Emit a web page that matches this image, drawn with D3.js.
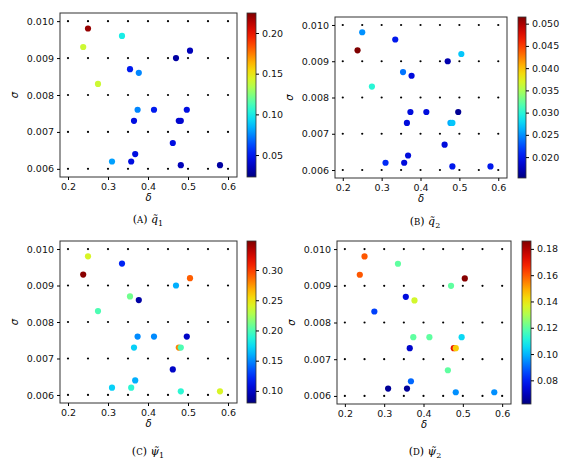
<!DOCTYPE html><html><head><meta charset="utf-8">
<script src="https://cdn.jsdelivr.net/npm/d3@7"></script>
<style>body{margin:0;background:#fff}</style></head><body>
<svg id="c" width="582" height="467" font-family="DejaVu Sans"></svg>
<script>
const deltas=[0.25,0.238,0.335,0.275,0.47,0.505,0.355,0.377,0.374,0.415,0.497,0.365,0.477,0.482,0.462,0.368,0.31,0.358,0.482,0.58];
const sigmas=[0.0098,0.0093,0.0096,0.0083,0.0090,0.0092,0.0087,0.0086,0.0076,0.0076,0.0076,0.0073,0.0073,0.0073,0.0067,0.0064,0.0062,0.0062,0.0061,0.0061];
const q1=[0.22,0.14,0.10,0.14,0.03,0.035,0.05,0.075,0.075,0.05,0.045,0.045,0.04,0.04,0.045,0.045,0.08,0.045,0.035,0.03];
const q2=[0.025,0.0515,0.020,0.030,0.017,0.027,0.024,0.019,0.019,0.019,0.016,0.019,0.026,0.027,0.019,0.019,0.021,0.019,0.020,0.020];
const psi1=[0.24,0.345,0.12,0.20,0.16,0.29,0.21,0.09,0.15,0.15,0.10,0.17,0.28,0.20,0.10,0.16,0.17,0.19,0.19,0.24];
const psi2=[0.16,0.16,0.12,0.085,0.12,0.185,0.075,0.135,0.12,0.12,0.105,0.072,0.17,0.145,0.12,0.09,0.065,0.065,0.095,0.095];
const gridX=[0.2,0.25,0.3,0.35,0.4,0.45,0.5,0.55,0.6];
const gridY=[0.006,0.007,0.008,0.009,0.010];
const xTicks=[0.2,0.3,0.4,0.5,0.6];
const panels=[
 {vals:q1,dom:[0.023,0.2246],ticks:[0.05,0.10,0.15,0.20],fmt:".2f",L:"A",sym:"q",sub:"1",box:[60,237,13,177],cb:[247,256],cap:[148,223]},
 {vals:q2,dom:[0.0153,0.0515],ticks:[0.020,0.025,0.030,0.035,0.040,0.045,0.050],fmt:".3f",L:"B",sym:"q",sub:"2",box:[335,507,17,178],cb:[518,526],cap:[425,225]},
 {vals:psi1,dom:[0.08,0.348],ticks:[0.10,0.15,0.20,0.25,0.30],fmt:".2f",L:"C",sym:"ψ",sub:"1",box:[60,237,241,403],cb:[247,256],cap:[148,455]},
 {vals:psi2,dom:[0.062,0.186],ticks:[0.08,0.10,0.12,0.14,0.16,0.18],fmt:".2f",L:"D",sym:"ψ",sub:"2",box:[337,511,241,404],cb:[522,531],cap:[425,455]}];
const svg=d3.select("#c");
const defs=svg.append("defs");
panels.forEach((p,i)=>{
 const [x0,x1,y0,y1]=p.box;
 const x=d3.scaleLinear().domain([0.18,0.6225]).range([x0,x1]);
 const y=d3.scaleLinear().domain([0.00578,0.01022]).range([y1,y0]);
 const g=svg.append("g");
 const col=d3.scaleSequential(d3.interpolateRgbBasis(["#00007f","#0000ff","#007fff","#00ffff","#7fff7f","#ffff00","#ff7f00","#ff0000","#7f0000"])).domain(p.dom);
 gridX.forEach(gx=>gridY.forEach(gy=>g.append("circle").attr("cx",x(gx)).attr("cy",y(gy)).attr("r",1.1).attr("fill","#000")));
 deltas.forEach((d,k)=>g.append("circle").attr("cx",x(d)).attr("cy",y(sigmas[k])).attr("r",3.1).attr("fill",col(p.vals[k])));
 g.append("rect").attr("x",x0).attr("y",y0).attr("width",x1-x0).attr("height",y1-y0).attr("fill","none").attr("stroke","#333").attr("stroke-width",1);
 const ax=g.append("g").attr("transform",`translate(0,${y1})`).call(d3.axisBottom(x).tickValues(xTicks).tickFormat(d3.format(".1f")).tickSize(3));
 const ay=g.append("g").attr("transform",`translate(${x0},0)`).call(d3.axisLeft(y).tickValues(gridY).tickFormat(d3.format(".3f")).tickSize(3));
 [ax,ay].forEach(a=>{a.attr("font-family","DejaVu Sans");a.select(".domain").remove();a.selectAll("text").attr("font-size",9.5).attr("fill","#111");});
 g.append("text").attr("x",(x0+x1)/2).attr("y",y1+24).attr("text-anchor","middle").attr("font-size",10).attr("font-style","italic").text("δ");
 g.append("text").attr("transform",`translate(${x0-42},${(y0+y1)/2}) rotate(-90)`).attr("text-anchor","middle").attr("font-size",10).attr("font-style","italic").text("σ");
 const [c0,c1]=p.cb;
 const gid="grad"+i;
 const gr=defs.append("linearGradient").attr("id",gid).attr("x1",0).attr("x2",0).attr("y1",1).attr("y2",0);
 d3.range(0,1.0001,0.05).forEach(t=>gr.append("stop").attr("offset",t).attr("stop-color",col(p.dom[0]+t*(p.dom[1]-p.dom[0]))));
 g.append("rect").attr("x",c0).attr("y",y0).attr("width",c1-c0).attr("height",y1-y0).attr("fill",`url(#${gid})`).attr("stroke","#333").attr("stroke-width",0.8);
 const cs=d3.scaleLinear().domain(p.dom).range([y1,y0]);
 const ac=g.append("g").attr("transform",`translate(${c1},0)`).call(d3.axisRight(cs).tickValues(p.ticks).tickFormat(d3.format(p.fmt)).tickSize(3));
 ac.attr("font-family","DejaVu Sans");ac.select(".domain").remove();ac.selectAll("text").attr("font-size",9.5).attr("fill","#111");
 const t=g.append("text").attr("x",p.cap[0]).attr("y",p.cap[1]).attr("text-anchor","middle").attr("font-family","DejaVu Serif").attr("font-size",11);
 t.append("tspan").text("(");t.append("tspan").attr("font-size",8.5).text(p.L);t.append("tspan").text(")  ");
 t.append("tspan").attr("font-style","italic").text(p.sym+"\u0303");
 t.append("tspan").attr("font-size",8).attr("dy",3).text(p.sub);
});
</script></body></html>
